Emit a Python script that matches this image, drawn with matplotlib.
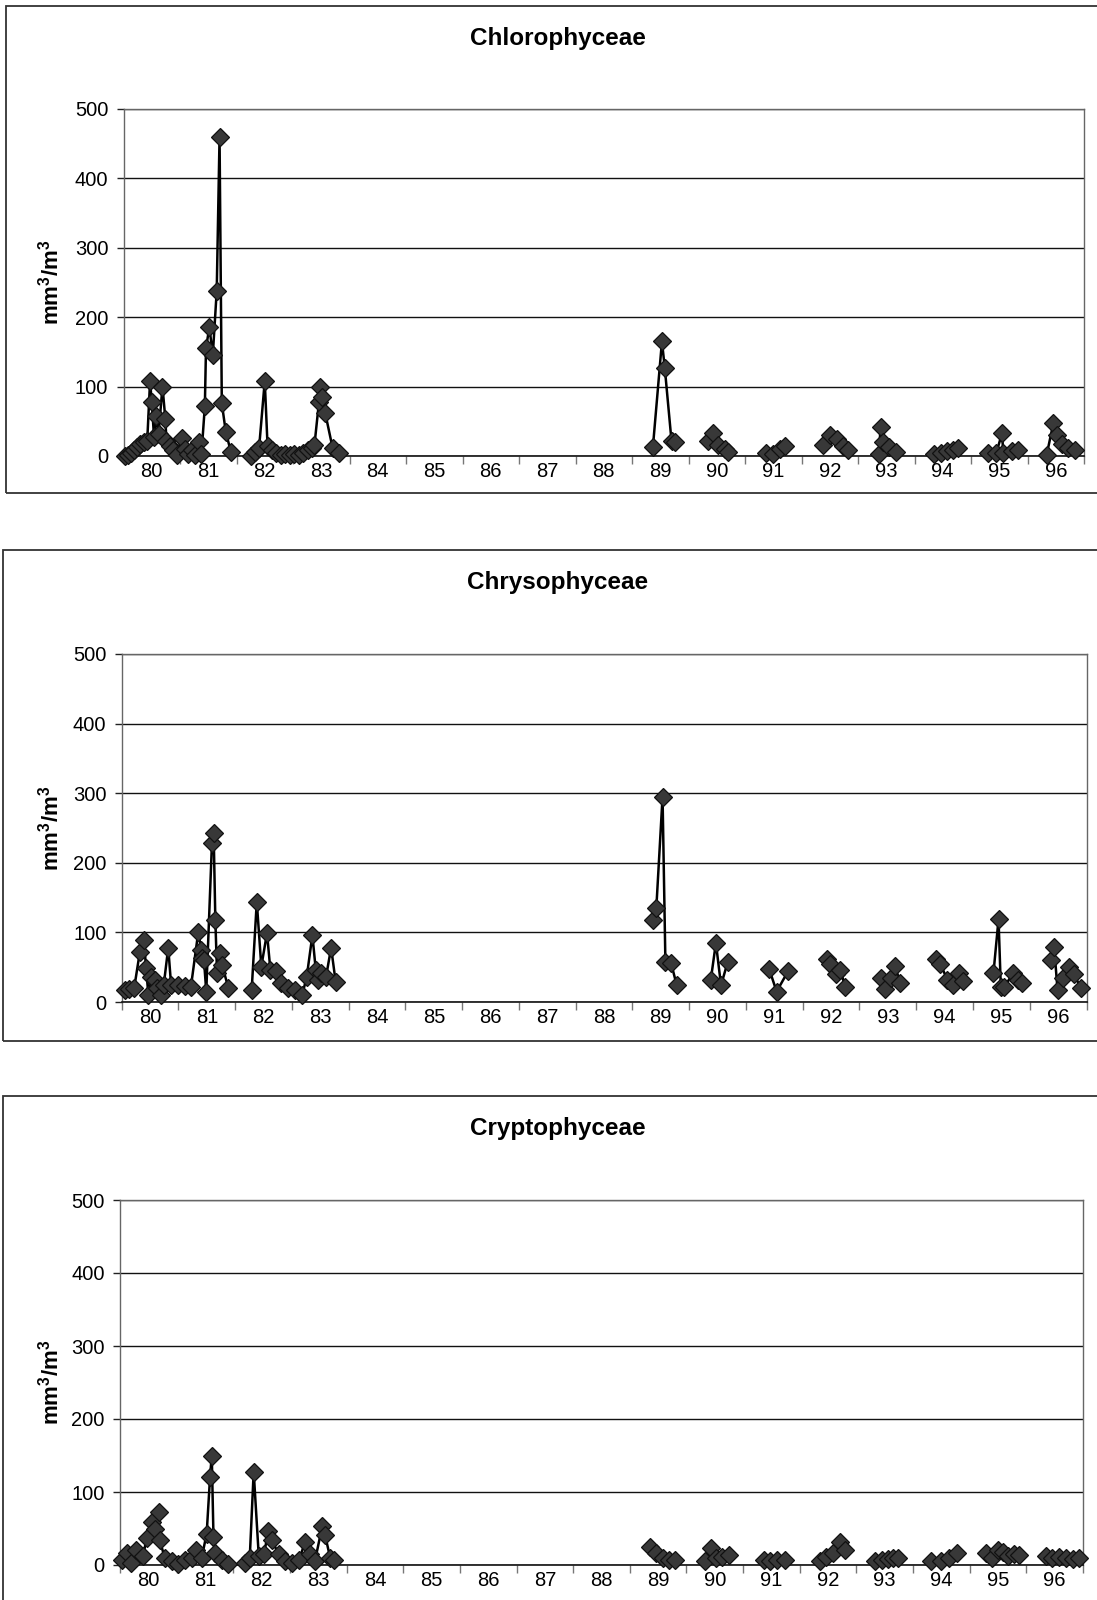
import numpy as np
import matplotlib
matplotlib.use("Agg")
import matplotlib.pyplot as plt
from matplotlib.patches import Rectangle

plt.rcParams['font.family'] = ['Liberation Sans', 'DejaVu Sans']
plt.rcParams['mathtext.fontset'] = 'custom'
plt.rcParams['mathtext.rm'] = 'Liberation Sans'
plt.rcParams['mathtext.bf'] = 'Liberation Sans:bold'

nan = np.nan

# Sampling dates (decimal years, 80 = 1980) and biovolumes (mm3/m3); NaN breaks the line
chloro_t = [80.03, 80.08, 80.13, 80.18, 80.24, 80.30, 80.36, 80.42, 80.47, 80.50, 80.54, 80.58,
            80.62, 80.69, 80.74, 80.76, 80.82, 80.88, 80.94, 81.03, 81.09, 81.15, 81.21, 81.27,
            81.33, 81.38, 81.44, 81.46, 81.52, 81.58, 81.65, 81.70, 81.74, 81.81, 81.90, nan,
            82.25, 82.32, 82.40, 82.50, 82.55, 82.62, 82.70, 82.78, 82.86, 82.94, 83.02, 83.10,
            83.18, 83.26, 83.34, 83.38, 83.46, 83.48, 83.52, 83.57, 83.70, 83.82, nan,
            89.37, 89.53, 89.58, 89.70, 89.76, nan,
            90.35, 90.43, 90.52, 90.65, 90.70, nan,
            91.38, 91.50, 91.62, 91.71, nan,
            92.38, 92.50, 92.62, 92.73, 92.82, nan,
            93.37, 93.40, 93.45, 93.55, 93.67, nan,
            94.34, 94.47, 94.57, 94.69, 94.77, nan,
            95.30, 95.45, 95.55, 95.57, 95.72, 95.83, nan,
            96.34, 96.46, 96.52, 96.61, 96.72, 96.84]
chloro_v = [0, 2, 5, 9, 13, 17, 20, 22, 108, 78, 28, 57,
            32, 100, 54, 22, 14, 8, 2, 26, 10, 3, 8, 2,
            20, 3, 72, 155, 186, 145, 238, 460, 76, 35, 6, nan,
            0, 6, 12, 108, 14, 8, 4, 2, 3, 2, 3, 2,
            4, 8, 12, 16, 78, 100, 85, 62, 12, 5, nan,
            13, 165, 127, 21, 20, nan,
            21, 33, 16, 10, 6, nan,
            5, 3, 10, 14, nan,
            16, 30, 24, 15, 8, nan,
            3, 42, 20, 13, 6, nan,
            3, 5, 7, 8, 12, nan,
            5, 5, 33, 5, 7, 8, nan,
            2, 48, 30, 18, 12, 8]

chryso_t = [80.05, 80.12, 80.22, 80.32, 80.39, 80.43, 80.47, 80.52, 80.58, 80.62, 80.70, 80.74,
            80.82, 80.87, 81.00, 81.12, 81.22, 81.35, 81.40, 81.42, 81.45, 81.49, 81.59, 81.62,
            81.65, 81.68, 81.74, 81.77, 81.88, nan,
            82.29, 82.38, 82.46, 82.56, 82.62, 82.72, 82.80, 82.93, 83.05, 83.18, 83.26, 83.36,
            83.42, 83.46, 83.51, 83.60, 83.69, 83.77, nan,
            89.37, 89.42, 89.53, 89.58, 89.68, 89.78, nan,
            90.38, 90.47, 90.56, 90.68, nan,
            91.41, 91.54, 91.74, nan,
            92.42, 92.48, 92.58, 92.66, 92.75, nan,
            93.38, 93.45, 93.55, 93.62, 93.72, nan,
            94.35, 94.42, 94.55, 94.65, 94.76, 94.82, nan,
            95.36, 95.45, 95.49, 95.55, 95.70, 95.80, 95.86, nan,
            96.37, 96.43, 96.49, 96.58, 96.70, 96.78, 96.90]
chryso_v = [17, 18, 20, 72, 89, 49, 10, 36, 32, 20, 10, 24,
            78, 25, 25, 23, 22, 101, 75, 63, 60, 15, 228, 243,
            118, 41, 70, 53, 20, nan,
            17, 144, 51, 99, 46, 44, 27, 20, 17, 10, 36, 96,
            46, 32, 41, 36, 78, 29, nan,
            118, 135, 295, 58, 56, 24, nan,
            32, 85, 24, 58, nan,
            47, 15, 44, nan,
            62, 55, 40, 46, 22, nan,
            35, 18, 35, 52, 28, nan,
            62, 55, 32, 25, 42, 30, nan,
            41, 119, 22, 21, 41, 32, 28, nan,
            60, 79, 17, 34, 51, 40, 20]

crypto_t = [80.03, 80.12, 80.20, 80.29, 80.41, 80.47, 80.56, 80.61, 80.68, 80.70, 80.79, 80.91,
            81.03, 81.14, 81.27, 81.35, 81.44, 81.53, 81.59, 81.62, 81.65, 81.68, 81.80, 81.91, nan,
            82.20, 82.29, 82.36, 82.45, 82.54, 82.62, 82.68, 82.80, 82.91, 83.04, 83.16, 83.27,
            83.36, 83.44, 83.57, 83.62, 83.71, 83.78, nan,
            89.35, 89.47, 89.58, 89.70, 89.79, nan,
            90.32, 90.44, 90.52, 90.63, 90.75, nan,
            91.36, 91.48, 91.60, 91.74, nan,
            92.36, 92.47, 92.59, 92.71, 92.80, nan,
            93.33, 93.45, 93.55, 93.65, 93.74, nan,
            94.32, 94.50, 94.64, 94.78, nan,
            95.28, 95.40, 95.50, 95.58, 95.68, 95.78, 95.87, nan,
            96.34, 96.46, 96.58, 96.70, 96.82, 96.93]
crypto_v = [7, 16, 3, 20, 13, 37, 59, 50, 73, 34, 10, 5,
            2, 7, 9, 20, 9, 43, 121, 150, 39, 16, 7, 2, nan,
            3, 9, 128, 12, 15, 46, 34, 15, 5, 3, 7, 32,
            15, 5, 53, 41, 10, 7, nan,
            25, 16, 9, 7, 7, nan,
            5, 23, 9, 11, 14, nan,
            7, 5, 7, 7, nan,
            5, 11, 16, 32, 21, nan,
            5, 7, 8, 10, 9, nan,
            5, 6, 9, 17, nan,
            16, 10, 20, 18, 12, 15, 14, nan,
            12, 10, 11, 9, 8, 9]

years = list(range(80, 97))
year_labels = [str(y) for y in years]
titles = ["Chlorophyceae", "Chrysophyceae", "Cryptophyceae"]
y_ticks = [0, 100, 200, 300, 400, 500]
y_label = r"$\mathbf{mm^3/m^3}$"

W, H = 1097, 1600
fig = plt.figure(figsize=(W / 100, H / 100), dpi=100)
fig.patch.set_facecolor("white")

# pixel boxes: (left, right, top, bottom) of each plot area
plot_boxes = [(123.5, 1084, 109, 456), (121.7, 1086.5, 654, 1002), (120, 1083, 1200, 1565)]
# outer frames: (left, top, right, bottom)
frames = [(6, 6, 1110, 493), (3, 550, 1110, 1041), (3, 1096, 1110, 1650)]
title_y = [38, 583, 1129]

series = [(chloro_t, chloro_v), (chryso_t, chryso_v), (crypto_t, crypto_v)]

for i, ((t, v), (l, r, tp, b)) in enumerate(zip(series, plot_boxes)):
    ax = fig.add_axes([l / W, 1 - b / H, (r - l) / W, (b - tp) / H])
    ax.set_xlim(80, 97)
    ax.set_ylim(0, 500)
    ax.set_yticks(y_ticks)
    ax.set_yticklabels([str(y) for y in y_ticks])
    ax.yaxis.grid(True, color="#111111", lw=1.0)
    ax.set_axisbelow(True)
    ax.set_xticks(years + [97])
    ax.set_xticklabels([])
    ax.set_xticks([y + 0.5 for y in years], minor=True)
    ax.set_xticklabels(year_labels, minor=True)
    ax.tick_params(axis="x", which="major", direction="out", length=6, width=1.0, color="#777777")
    ax.tick_params(axis="x", which="minor", length=0, pad=4, labelsize=14.5)
    ax.tick_params(axis="y", direction="out", length=5, width=1.0, color="#222222",
                   pad=6, labelsize=14.5)
    for s in ["left", "right", "top"]:
        ax.spines[s].set_color("#666666")
        ax.spines[s].set_linewidth(1.0)
    ax.spines["bottom"].set_color("#111111")
    ax.spines["bottom"].set_linewidth(1.2)

    ax.plot(t, v, color="black", lw=1.8, marker="D", ms=9.5, mfc="#383838",
            mec="#111111", mew=0.9, clip_on=False, zorder=3)

    fig.text(51 / W, 1 - ((tp + b) / 2) / H, y_label, rotation=90, ha="center", va="center",
             fontsize=16)
    fig.text(558 / W, 1 - title_y[i] / H, titles[i], ha="center", va="center",
             fontsize=17.5, fontweight="bold")

    fl, ft, fr, fb = frames[i]
    fig.add_artist(Rectangle((fl / W, 1 - fb / H), (fr - fl) / W, (fb - ft) / H,
                             transform=fig.transFigure, fill=False, edgecolor="#333333",
                             lw=1.3))

fig.savefig("out.png", dpi=100)
